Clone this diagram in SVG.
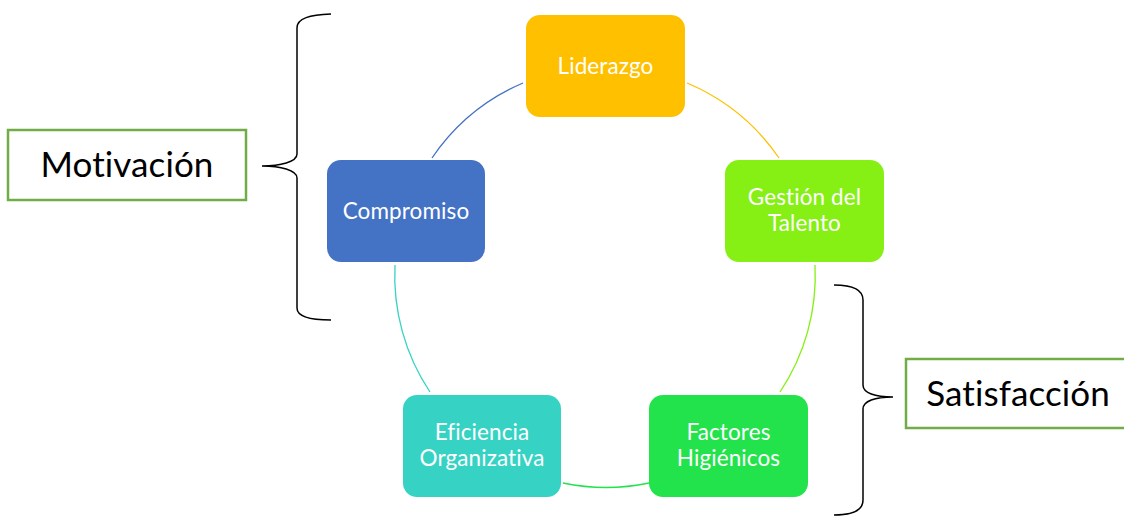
<svg xmlns="http://www.w3.org/2000/svg" width="1124" height="516" viewBox="0 0 1124 516">
<style>
text{font-variant-ligatures:none;font-feature-settings:"liga" 0,"clig" 0,"dlig" 0,"calt" 0;letter-spacing:0.1px}
.node text{font-family:Lato,"Open Sans","Liberation Sans",sans-serif;font-size:22.5px;fill:#fff;text-anchor:middle}
.lbl text{font-family:Lato,"Open Sans","Liberation Sans",sans-serif;font-size:35px;fill:#000;text-anchor:middle}
.lbl rect{fill:#fff;stroke:#70AD47;stroke-width:2.5}
.arc{fill:none;stroke-width:1.3}
.brace{fill:none;stroke:#000;stroke-width:1.5}
</style>
<rect width="1124" height="516" fill="#fff"/>
<g id="connectors">
<path class="arc" stroke="#FFC000" d="M687 83 A210 210 0 0 1 779 158"/>
<path class="arc" stroke="#86EF14" d="M815 265 A210 210 0 0 1 780 392"/>
<path class="arc" stroke="#22E34B" d="M649 483 A210 210 0 0 1 563 483"/>
<path class="arc" stroke="#36D3C4" d="M430 392 A210 210 0 0 1 395 265"/>
<path class="arc" stroke="#4472C4" d="M432 158 A210 210 0 0 1 523 83"/>
</g>
<g id="liderazgo" class="node"><rect x="526" y="15" width="159" height="102" rx="14" fill="#FFC000"/><text x="605.5" y="74">Liderazgo</text></g>
<g id="gestion" class="node"><rect x="725" y="160" width="159" height="102" rx="14" fill="#86EF14"/><text x="804.5" y="205">Gestión del</text><text x="804.5" y="231">Talento</text></g>
<g id="factores" class="node"><rect x="649" y="395" width="159" height="102" rx="14" fill="#22E34B"/><text x="728.5" y="440">Factores</text><text x="728.5" y="466">Higiénicos</text></g>
<g id="eficiencia" class="node"><rect x="403" y="395" width="158" height="102" rx="14" fill="#36D3C4"/><text x="482" y="440">Eficiencia</text><text x="482" y="466">Organizativa</text></g>
<g id="compromiso" class="node"><rect x="327" y="160" width="158" height="102" rx="14" fill="#4472C4"/><text x="406" y="219">Compromiso</text></g>
<g id="brace-motivacion"><path class="brace" d="M331 14 C310 15 297 18 297 28 L297 154 C297 162 280 166 262 166 C280 166 297 170 297 178 L297 308 C297 317 310 320 331 320"/></g>
<g id="brace-satisfaccion"><path class="brace" d="M834 285 C852 285 863 290 863 300 L863 385 C863 393 875 397 893 397 C875 397 863 401 863 409 L863 500 C863 510 852 515 834 515"/></g>
<g id="motivacion" class="lbl"><rect x="8" y="130" width="238" height="70"/><text x="127" y="177">Motivación</text></g>
<g id="satisfaccion" class="lbl"><rect x="906" y="359" width="230" height="69"/><text x="1018" y="406">Satisfacción</text></g>
</svg>
